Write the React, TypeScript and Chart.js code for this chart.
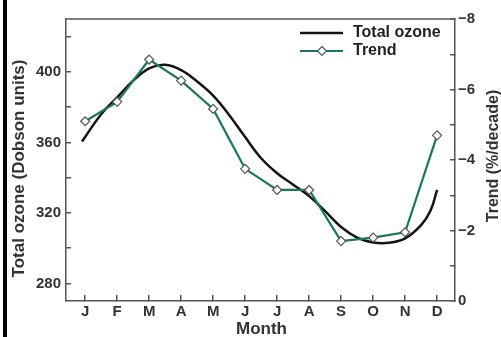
import React, { useEffect, useRef } from "react";
import { Chart, registerables } from "chart.js";

Chart.register(...registerables);

// ---- data ----
const months = ["J", "F", "M", "A", "M", "J", "J", "A", "S", "O", "N", "D"];
const trendValues = [-5.1, -5.65, -6.85, -6.25, -5.45, -3.75, -3.15, -3.15, -1.7, -1.8, -1.95, -4.7];
const ozoneMonthPos = [-0.1, 0.5, 1, 1.5, 2, 2.5, 3, 3.5, 4, 4.5, 5, 5.5, 6, 6.5, 7, 7.5, 8, 8.5, 9, 9.5, 10, 10.5, 10.8, 11];
const ozoneValues = [360.5, 376, 385.5, 395, 402, 404, 401, 394.5, 386.5, 375.5, 363, 351, 342.5, 336, 329.5, 321, 312, 306, 303.2, 303, 305.5, 313, 321.5, 333];
const leftTicks = [280, 300, 320, 340, 360, 380, 400, 420];
const leftLabeled = [280, 320, 360, 400];
const rightTicks = [-8, -7, -6, -5, -4, -3, -2, -1, 0];
const rightLabeled = [-8, -6, -4, -2, 0];

const FONT = "'Liberation Sans', Arial, sans-serif";
const AXIS = "#555555";
const TEXT = "#333333";
const GREEN = "#17785c";
const BLACK = "#141414";

const decor = {
  id: "decor",
  afterDraw(chart: any) {
    const ctx = chart.ctx as CanvasRenderingContext2D;
    const a = chart.chartArea;
    ctx.save();
    // left black bar of the figure frame
    ctx.fillStyle = "#000";
    ctx.fillRect(3, 0, 4, chart.height);
    // top border of plot box
    ctx.strokeStyle = AXIS;
    ctx.lineWidth = 1.5;
    ctx.beginPath();
    ctx.moveTo(a.left, a.top);
    ctx.lineTo(a.right, a.top);
    ctx.stroke();
    // axis titles
    ctx.fillStyle = TEXT;
    ctx.textAlign = "center";
    ctx.textBaseline = "middle";
    ctx.font = `bold 17px ${FONT}`;
    ctx.save();
    ctx.translate(19, 168.5);
    ctx.rotate(-Math.PI / 2);
    ctx.fillText("Total ozone (Dobson units)", 0, 0);
    ctx.restore();
    ctx.save();
    ctx.font = `bold 16px ${FONT}`;
    ctx.translate(494, 156);
    ctx.rotate(-Math.PI / 2);
    ctx.fillText("Trend (%/decade)", 0, 0);
    ctx.restore();
    ctx.font = `bold 17px ${FONT}`;
    ctx.fillText("Month", (a.left + a.right) / 2 + 1, 329);
    // legend
    ctx.lineWidth = 2.5;
    ctx.strokeStyle = BLACK;
    ctx.beginPath();
    ctx.moveTo(300, 33);
    ctx.lineTo(343, 33);
    ctx.stroke();
    ctx.strokeStyle = GREEN;
    ctx.lineWidth = 2.2;
    ctx.beginPath();
    ctx.moveTo(300, 51);
    ctx.lineTo(343, 51);
    ctx.stroke();
    const r = 4.5;
    ctx.beginPath();
    ctx.moveTo(322, 51 - r);
    ctx.lineTo(322 + r, 51);
    ctx.lineTo(322, 51 + r);
    ctx.lineTo(322 - r, 51);
    ctx.closePath();
    ctx.fillStyle = "#fff";
    ctx.fill();
    ctx.strokeStyle = AXIS;
    ctx.lineWidth = 1.2;
    ctx.stroke();
    ctx.fillStyle = "#222";
    ctx.textAlign = "left";
    ctx.font = `bold 16px ${FONT}`;
    ctx.fillText("Total ozone", 353, 33);
    ctx.fillText("Trend", 353, 51);
    ctx.restore();
  },
};

export default function App() {
  const ref = useRef<HTMLCanvasElement | null>(null);
  useEffect(() => {
    document.body.style.margin = "0";
    const canvas = ref.current;
    if (!canvas) return;
    const chart = new Chart(canvas, {
      type: "line",
      data: {
        datasets: [
          {
            label: "Trend",
            yAxisID: "y2",
            data: months.map((_, i) => ({ x: i, y: trendValues[i] })),
            borderColor: GREEN,
            borderWidth: 2.2,
            tension: 0,
            pointStyle: "rectRot",
            pointRadius: 4.5,
            pointBackgroundColor: "#ffffff",
            pointBorderColor: AXIS,
            pointBorderWidth: 1.2,
            order: 1,
          },
          {
            label: "Total ozone",
            yAxisID: "y",
            data: ozoneMonthPos.map((x, i) => ({ x, y: ozoneValues[i] })),
            borderColor: BLACK,
            borderWidth: 2.5,
            pointRadius: 0,
            tension: 0.4,
            order: 2,
          },
        ],
      },
      options: {
        responsive: false,
        animation: false,
        layout: { padding: { top: 18, left: 0, right: 0, bottom: 0 } },
        plugins: { legend: { display: false }, tooltip: { enabled: false } },
        scales: {
          x: {
            type: "linear",
            position: "bottom",
            min: -0.6,
            max: 11.56,
            afterBuildTicks: (s: any) => {
              s.ticks = months.map((_, i) => ({ value: i }));
            },
            afterFit: (s: any) => {
              s.height = 36;
            },
            ticks: {
              autoSkip: false,
              maxRotation: 0,
              padding: 8,
              color: TEXT,
              font: { family: FONT, size: 15, weight: "bold" },
              callback: (v: any) => months[Math.round(Number(v))] ?? "",
            },
            grid: { drawOnChartArea: false, drawTicks: true, tickLength: -6, color: AXIS, lineWidth: 1.5 },
            border: { display: true, color: AXIS, width: 1.5 },
          },
          y: {
            type: "linear",
            position: "left",
            min: 270,
            max: 430,
            afterBuildTicks: (s: any) => {
              s.ticks = leftTicks.map((v) => ({ value: v }));
            },
            afterFit: (s: any) => {
              s.width = 66;
            },
            ticks: {
              padding: 10,
              color: TEXT,
              font: { family: FONT, size: 15, weight: "bold" },
              callback: (v: any) => (leftLabeled.includes(Number(v)) ? String(v) : ""),
            },
            grid: { drawOnChartArea: false, drawTicks: true, tickLength: -5, color: AXIS, lineWidth: 1.5 },
            border: { display: true, color: AXIS, width: 1.5 },
          },
          y2: {
            type: "linear",
            position: "right",
            min: -8,
            max: 0,
            reverse: true,
            afterBuildTicks: (s: any) => {
              s.ticks = rightTicks.map((v) => ({ value: v }));
            },
            afterFit: (s: any) => {
              s.width = 46;
            },
            ticks: {
              padding: 8,
              color: TEXT,
              font: { family: FONT, size: 15, weight: "bold" },
              callback: (v: any) => {
                const n = Number(v);
                if (!rightLabeled.includes(n)) return "";
                return n === 0 ? "0" : "\u2212" + Math.abs(n);
              },
            },
            grid: { drawOnChartArea: false, drawTicks: true, tickLength: -5, color: AXIS, lineWidth: 1.5 },
            border: { display: true, color: AXIS, width: 1.5 },
          },
        },
      } as any,
      plugins: [decor],
    });
    return () => chart.destroy();
  }, []);
  return <canvas ref={ref} width={501} height={337} style={{ display: "block" }} />;
}
